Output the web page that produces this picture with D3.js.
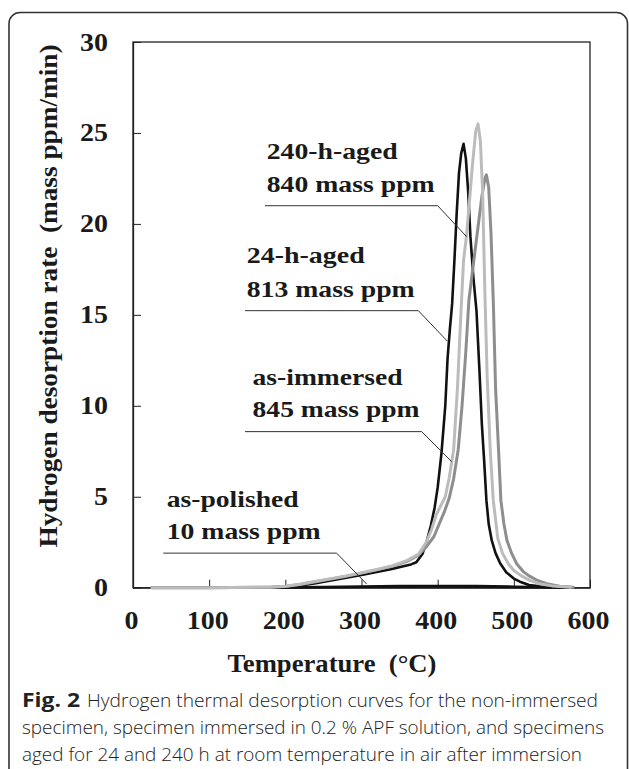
<!DOCTYPE html>
<html><head><meta charset="utf-8">
<script src="https://cdn.jsdelivr.net/npm/d3@7"></script>
<style>body{margin:0;background:#fff}</style>
</head><body><svg id="c" width="629" height="769"></svg>
<script>
// ---- data ----
const xTicks = [0, 100, 200, 300, 400, 500, 600];
const yTicks = [0, 5, 10, 15, 20, 25, 30];

// 24-h-aged, 813 mass ppm (black)
const tAged24 = [25,100,180,200,220,240,260,280,300,320,340,355,365,372,380,386,391,396,400,405,410,413,416,419,422,425,428,431,434,437,440,443,447,451,455,458,461,464,467,471,476,482,490,500,508,520,540,575];
const vAged24 = [0,0,0.02,0.05,0.12,0.25,0.4,0.55,0.7,0.86,1.03,1.18,1.28,1.4,1.85,2.6,3.4,4.4,5.5,7.4,10.0,12.6,14.2,15.6,18.0,20.6,22.8,23.9,24.4,23.6,21.8,19.3,17.0,15.2,11.8,9.0,7.0,4.8,3.5,2.6,1.9,1.34,0.85,0.5,0.33,0.15,0.05,0.02];

// 240-h-aged, 840 mass ppm (light grey)
const tAged240 = [25,100,180,200,220,240,260,280,300,320,340,360,375,385,392,398,404,410,415,421,426,431,434,438,442,446,450,453,456,459,462,465,469,473,479,485,493,500,510,521,535,550,575];
const vAged240 = [0,0,0.03,0.08,0.2,0.35,0.5,0.65,0.82,1.0,1.2,1.5,1.85,2.5,3.2,4.0,4.5,5.0,6.0,7.6,11.0,15.5,18.0,19.4,21.4,23.4,25.1,25.5,24.6,21.8,16.2,11.6,7.6,4.8,2.7,1.9,1.3,0.95,0.65,0.4,0.2,0.1,0.03];

// as-immersed, 845 mass ppm (medium grey)
const tImmersed = [25,100,180,200,220,240,260,280,300,320,340,360,375,386,395,402,409,415,421,427,432,437,441,446,452,458,462,464,467,470,473,476,480,483,487,491,497,504,512,520,530,545,560,578];
const vImmersed = [0,0,0.03,0.07,0.18,0.33,0.48,0.63,0.8,0.98,1.18,1.45,1.8,2.3,2.8,3.5,4.2,4.9,6.0,7.6,10.0,13.0,15.8,17.5,19.5,21.5,22.5,22.7,22.0,19.5,15.8,11.0,7.5,4.8,3.5,2.6,1.9,1.3,0.9,0.65,0.42,0.2,0.08,0.03];

// as-polished, 10 mass ppm (black, near zero)
const tPolished = [25,150,200,250,300,350,400,450,500,550,575];
const vPolished = [0,0,0.01,0.03,0.06,0.08,0.09,0.08,0.05,0.02,0.01];

const labelNames   = ["240-h-aged", "24-h-aged", "as-immersed", "as-polished"];
const labelAmounts = ["840 mass ppm", "813 mass ppm", "845 mass ppm", "10 mass ppm"];

// ---- layout ----
const svg = d3.select("#c");
const x = d3.scaleLinear().domain([0, 600]).range([133, 590]);
const y = d3.scaleLinear().domain([0, 30]).range([587.7, 42]);

// outer rounded frame (open below the picture)
svg.append("rect").attr("x", 9).attr("y", 12.5).attr("width", 618.5).attr("height", 800)
  .attr("rx", 11).attr("fill", "none").attr("stroke", "#333").attr("stroke-width", 1.6);

// plot box
svg.append("rect").attr("x", x(0)).attr("y", y(30)).attr("width", x(600) - x(0)).attr("height", y(0) - y(30))
  .attr("fill", "none").attr("stroke", "#222").attr("stroke-width", 1.3);

const serif = "'Liberation Serif','Times New Roman',serif";

const gx = svg.append("g").attr("transform", `translate(0,${y(0)})`)
  .call(d3.axisBottom(x).tickValues(xTicks).tickSize(-8).tickSizeOuter(0).tickPadding(24).tickFormat(d3.format("d")));
const gy = svg.append("g").attr("transform", `translate(${x(0)},0)`)
  .call(d3.axisLeft(y).tickValues(yTicks).tickSize(-8).tickSizeOuter(0).tickPadding(25).tickFormat(d3.format("d")));
[gx, gy].forEach(g => {
  g.select(".domain").attr("stroke", "#222").attr("stroke-width", 1.3);
  g.selectAll(".tick line").attr("stroke", "#222").attr("stroke-width", 1);
  g.selectAll(".tick text")
    .attr("fill", "#1a1a1a")
    .style("font-family", serif).style("font-weight", "bold").style("font-size", "25px")
    .attr("textLength", d => String(d).length * 14).attr("lengthAdjust", "spacingAndGlyphs");
});
gx.selectAll(".tick text").attr("dx", "-2");

// axis titles
svg.append("text").attr("x", 332).attr("y", 672).attr("text-anchor", "middle")
  .style("font-family", serif).style("font-weight", "bold").style("font-size", "26px").attr("fill", "#1a1a1a")
  .attr("textLength", 209).attr("lengthAdjust", "spacingAndGlyphs")
  .text("Temperature\u00a0\u00a0(°C)");
svg.append("text").attr("transform", "translate(57,296) rotate(-90)").attr("text-anchor", "middle")
  .style("font-family", serif).style("font-weight", "bold").style("font-size", "25px").attr("fill", "#1a1a1a")
  .attr("textLength", 503).attr("lengthAdjust", "spacingAndGlyphs")
  .text("Hydrogen desorption rate\u00a0\u00a0(mass ppm/min)");

// curves
const line = d3.line().x(d => x(d[0])).y(d => y(d[1])).curve(d3.curveLinear);
const series = [
  { t: tPolished, v: vPolished, color: "#111", w: 2.8 },
  { t: tAged24,  v: vAged24,  color: "#111", w: 2.6 },
  { t: tImmersed, v: vImmersed, color: "#8e8e8e", w: 3 },
  { t: tAged240, v: vAged240, color: "#bcbcbc", w: 3 },
];
series.forEach(s => {
  svg.append("path").datum(d3.zip(s.t, s.v)).attr("d", line)
    .attr("fill", "none").attr("stroke", s.color).attr("stroke-width", s.w)
    .attr("stroke-linejoin", "round").attr("stroke-linecap", "round");
});

// annotations (positions in data units)
const annot = [
  { tx: 175.5, v1: 23.55, v2: 21.77, w1: 131, w2: 168, lv: 21.0, lx0: 173.3, lx1: 400, ex: 438, ev: 19.3 },
  { tx: 149.3, v1: 17.83, v2: 16.0, w1: 118, w2: 168, lv: 15.23, lx0: 147, lx1: 374.6, ex: 412.6, ev: 13.56 },
  { tx: 157,   v1: 11.14, v2: 9.4,  w1: 150, w2: 167, lv: 8.58, lx0: 147, lx1: 379, ex: 418.4, ev: 6.93 },
  { tx: 44.2,  v1: 4.42,  v2: 2.68, w1: 132, w2: 154, lv: 1.9,  lx0: 39.8, lx1: 267.4, ex: 306.8, ev: 0.2 },
];
annot.forEach((a, i) => {
  const g = svg.append("g").style("font-family", serif).style("font-weight", "bold").style("font-size", "24px").attr("fill", "#1a1a1a");
  g.append("text").attr("x", x(a.tx)).attr("y", y(a.v1)).attr("textLength", a.w1).attr("lengthAdjust", "spacingAndGlyphs").text(labelNames[i]);
  g.append("text").attr("x", x(a.tx)).attr("y", y(a.v2)).attr("textLength", a.w2).attr("lengthAdjust", "spacingAndGlyphs").text(labelAmounts[i]);
  svg.append("path")
    .attr("d", d3.line()([[x(a.lx0), y(a.lv)], [x(a.lx1), y(a.lv)], [x(a.ex), y(a.ev)]]))
    .attr("fill", "none").attr("stroke", "#333").attr("stroke-width", 1);
});

// caption
const sans = "'Open Sans','Noto Sans',sans-serif";
svg.append("text").attr("x", 22).attr("y", 707).style("font-family", sans).style("font-weight", "bold")
  .style("font-size", "19px").attr("fill", "#222").attr("textLength", 58).attr("lengthAdjust", "spacingAndGlyphs").text("Fig. 2");
const capLines = [
  { x: 87, y: 707, w: 511, t: "Hydrogen thermal desorption curves for the non-immersed" },
  { x: 22, y: 734, w: 582, t: "specimen, specimen immersed in 0.2 % APF solution, and specimens" },
  { x: 22, y: 761, w: 560, t: "aged for 24 and 240 h at room temperature in air after immersion" },
];
capLines.forEach(c => {
  svg.append("text").attr("x", c.x).attr("y", c.y).style("font-family", sans).style("font-weight", "300")
    .style("font-size", "19px").attr("fill", "#222").attr("textLength", c.w).attr("lengthAdjust", "spacingAndGlyphs").text(c.t);
});
</script></body></html>
